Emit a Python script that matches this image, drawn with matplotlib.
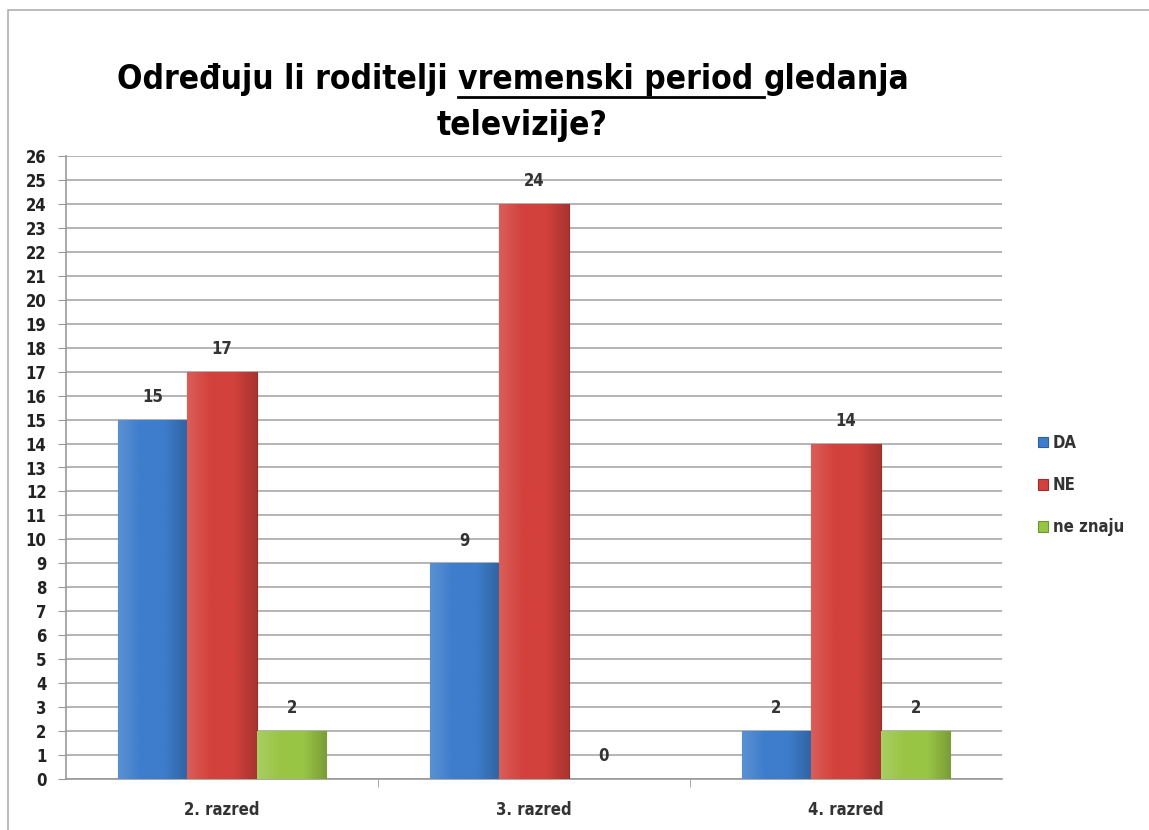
import numpy as np
import matplotlib.pyplot as plt
from matplotlib.patches import Rectangle
from matplotlib.lines import Line2D
from matplotlib.colors import LinearSegmentedColormap, to_rgb

# ---------------- DATA ----------------
categories = ["2. razred", "3. razred", "4. razred"]
series_names = ["DA", "NE", "ne znaju"]
da_values = [15, 9, 2]
ne_values = [17, 24, 14]
neznaju_values = [2, 0, 2]
title_prefix = "Određuju li roditelji "
title_under = "vremenski period "
title_suffix = "gledanja"
title_line2 = "televizije?"

# ---------------- STYLE ----------------
colors = ["#3d7dcb", "#d3413c", "#99c545"]
edges = ["#2d5f9e", "#9e2b28", "#6e9530"]
plt.rcParams['font.family'] = ["DejaVu Sans"]
plt.rcParams['font.stretch'] = "condensed"


def shade(c, f):
    r = np.array(to_rgb(c))
    if f > 1:
        return tuple(r + (1 - r) * (f - 1))
    return tuple(r * f)


fig = plt.figure(figsize=(11.49, 8.30), dpi=100)
ax = fig.add_axes([66 / 1149, 1 - 779 / 830, (1002 - 66) / 1149, (779 - 156) / 830])

# outer chart frame (left and top edge visible)
fig.patches.append(Rectangle((8 / 1149, -0.1), 1.2, 1 - 10 / 830 + 0.1, transform=fig.transFigure,
                             fill=False, edgecolor="#b0b0b0", lw=1.2))

x = np.arange(len(categories))
w = 0.223
all_vals = [da_values, ne_values, neznaju_values]
for i, vals in enumerate(all_vals):
    pos = x + (i - 1) * w
    bars = ax.bar(pos, vals, width=w, color=colors[i], edgecolor=edges[i], linewidth=0.8,
                  label=series_names[i], zorder=3)
    cmap = LinearSegmentedColormap.from_list(
        "g%d" % i, [shade(colors[i], 1.15), colors[i], colors[i], shade(colors[i], 0.8)])
    grad = np.linspace(0, 1, 64).reshape(1, -1)
    for b in bars:
        if b.get_height() <= 0:
            continue
        im = ax.imshow(grad, cmap=cmap, aspect="auto", zorder=3.5,
                       extent=[b.get_x(), b.get_x() + b.get_width(), 0, b.get_height()])
        im.set_clip_path(b)
    for p, v in zip(pos, vals):
        ax.text(p, v + 0.95, str(v), ha="center", va="center", fontsize=12,
                fontweight="bold", color="#333333", zorder=4)

ax.set_xlim(-0.5, 2.5)
ax.set_ylim(0, 26)
ax.set_yticks(np.arange(0, 27, 1))
ax.set_xticks(x)
ax.set_xticklabels(categories, fontsize=12, fontweight="bold", color="#333333")
ax.tick_params(axis="x", length=0, pad=16)
ax.set_xticks([0.5, 1.5], minor=True)
ax.tick_params(axis="x", which="minor", length=6, color="#999999", direction="out")
ax.tick_params(axis="y", length=6, color="#999999", labelsize=12, labelcolor="#222222", pad=8)
for lbl in ax.get_yticklabels():
    lbl.set_fontweight("bold")
ax.yaxis.grid(True, color="#a8a8a8", lw=1.2, zorder=0)
ax.set_axisbelow(True)
for s in ["top", "right"]:
    ax.spines[s].set_visible(False)
ax.spines["left"].set_color("#999999")
ax.spines["bottom"].set_color("#999999")
ax.spines["left"].set_linewidth(1.2)
ax.spines["bottom"].set_linewidth(1.2)

# legend
leg = fig.legend(loc="upper left", bbox_to_anchor=(1023 / 1149, 1 - 419 / 830), frameon=False,
                 handlelength=0.6, handleheight=0.6, handletextpad=0.3,
                 labelspacing=1.45, prop={"weight": "bold", "size": 12, "stretch": "condensed"})
for t in leg.get_texts():
    t.set_color("#333333")

# title with underlined part
tsize = 24
y1 = 1 - 79 / 830
x0 = 117 / 1149
renderer = fig.canvas.get_renderer()
t1 = fig.text(x0, y1, title_prefix, fontsize=tsize, fontweight="bold", va="center", ha="left")
bb1 = t1.get_window_extent(renderer)
t2 = fig.text(bb1.x1 / fig.bbox.width, y1, title_under, fontsize=tsize, fontweight="bold",
              va="center", ha="left")
bb2 = t2.get_window_extent(renderer)
t3 = fig.text(bb2.x1 / fig.bbox.width, y1, title_suffix, fontsize=tsize, fontweight="bold",
              va="center", ha="left")
uy = 1 - 97 / 830
fig.add_artist(Line2D([bb2.x0 / fig.bbox.width, bb2.x1 / fig.bbox.width], [uy, uy],
                      transform=fig.transFigure, color="black", lw=2))
fig.text(522 / 1149, 1 - 126 / 830, title_line2, fontsize=tsize, fontweight="bold",
         va="center", ha="center")

fig.savefig("out.png", dpi=100)
